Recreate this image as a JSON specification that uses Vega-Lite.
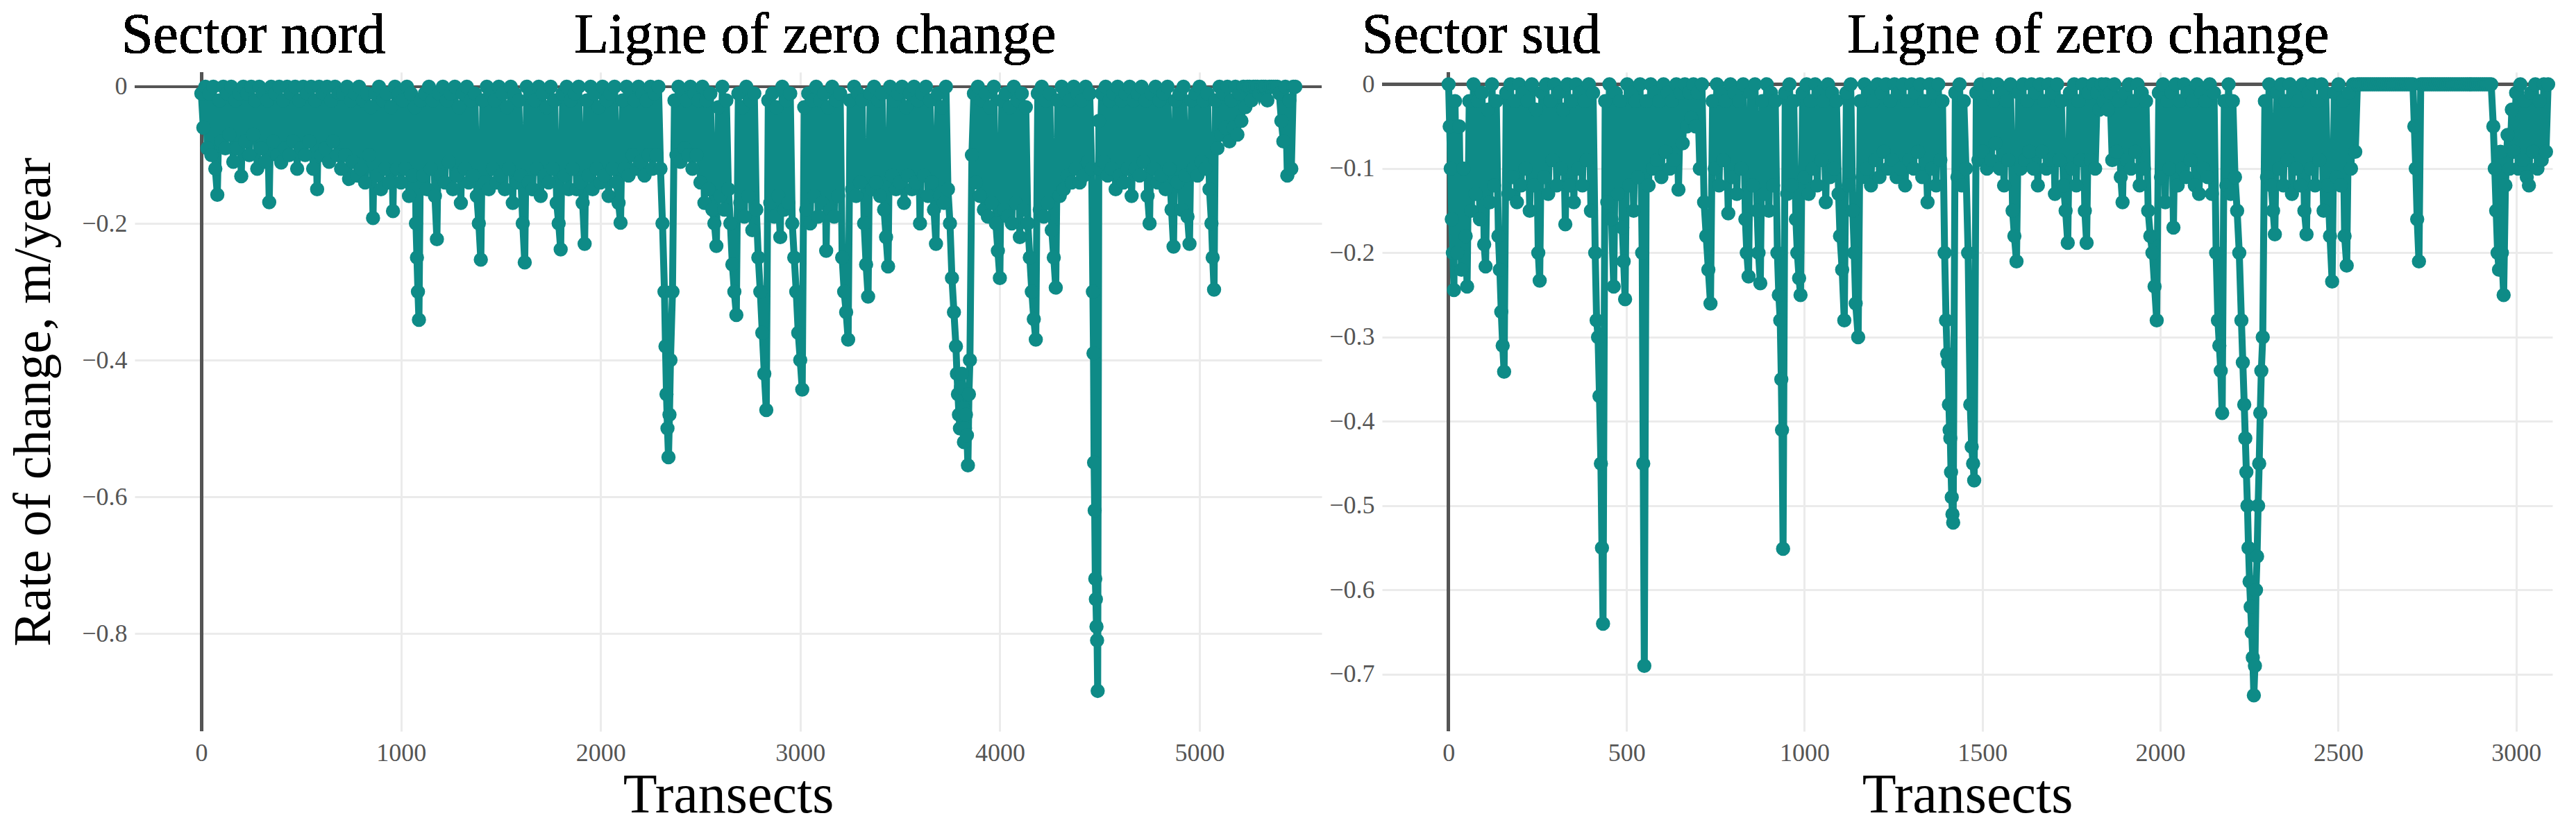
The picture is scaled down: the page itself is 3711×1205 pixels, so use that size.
{
  "$schema": "https://vega.github.io/schema/vega-lite/v6.json",
  "background": "white",
  "padding": {"left": 10, "top": 10, "right": 0, "bottom": 0},
  "spacing": 8,
  "config": {
    "view": {"stroke": null},
    "axis": {"labelFont": "Liberation Serif", "labelFontSize": 36, "labelColor": "#555555", "titleFont": "Liberation Serif", "titleColor": "#000000", "titleFontWeight": "normal", "ticks": false, "domain": false, "gridColor": "#ebebeb", "gridWidth": 3, "labelOverlap": false, "labelFlush": false},
    "axisX": {"labelPadding": 14, "titleFontSize": 80, "titlePadding": 4},
    "axisY": {"labelPadding": 11, "titleFontSize": 76, "titlePadding": 30},
    "text": {"font": "Liberation Serif"}
  },
  "datasets": {
    "nord": [
      {"t":0,"r":-0.01},{"t":10,"r":-0.06},{"t":20,"r":0},{"t":30,"r":-0.09},{"t":40,"r":-0.01},{"t":50,"r":-0.1},{"t":60,"r":0},{"t":70,"r":-0.12},{"t":80,"r":-0.158},{"t":90,"r":-0.02},
      {"t":100,"r":-0.08},{"t":110,"r":0},{"t":120,"r":-0.09},{"t":130,"r":-0.01},{"t":140,"r":-0.07},{"t":150,"r":0},{"t":160,"r":-0.11},{"t":170,"r":-0.02},{"t":180,"r":-0.09},{"t":190,"r":-0.01},{"t":200,"r":-0.131},{"t":210,"r":0},{"t":220,"r":-0.08},{"t":230,"r":-0.01},{"t":240,"r":-0.1},{"t":250,"r":0},{"t":260,"r":-0.07},{"t":270,"r":-0.02},{"t":280,"r":-0.12},{"t":290,"r":0},{"t":300,"r":-0.09},{"t":310,"r":-0.01},{"t":320,"r":-0.11},{"t":330,"r":-0.02},{"t":340,"r":-0.169},{"t":350,"r":0},{"t":360,"r":-0.08},{"t":370,"r":-0.01},{"t":380,"r":-0.1},{"t":390,"r":0},{"t":400,"r":-0.111},{"t":410,"r":-0.02},{"t":420,"r":-0.09},{"t":430,"r":0},{"t":440,"r":-0.1},{"t":450,"r":-0.01},{"t":460,"r":-0.08},{"t":470,"r":0},{"t":480,"r":-0.12},{"t":490,"r":-0.02},{"t":500,"r":-0.09},{"t":510,"r":0},{"t":520,"r":-0.1},{"t":530,"r":-0.01},{"t":540,"r":-0.08},{"t":550,"r":0},{"t":560,"r":-0.12},{"t":570,"r":-0.02},{"t":580,"r":-0.15},{"t":590,"r":0},{"t":600,"r":-0.1},{"t":610,"r":-0.01},{"t":620,"r":-0.09},{"t":630,"r":0},{"t":640,"r":-0.11},{"t":650,"r":-0.02},{"t":660,"r":-0.08},{"t":670,"r":0},{"t":680,"r":-0.1},{"t":690,"r":-0.01},
      {"t":700,"r":-0.12},{"t":710,"r":-0.01},{"t":720,"r":-0.1},{"t":730,"r":0},{"t":740,"r":-0.135},{"t":750,"r":-0.02},{"t":760,"r":-0.11},{"t":770,"r":-0.01},{"t":780,"r":-0.13},{"t":790,"r":0},{"t":800,"r":-0.12},{"t":810,"r":-0.02},{"t":820,"r":-0.14},{"t":830,"r":-0.01},{"t":840,"r":-0.1},{"t":850,"r":-0.03},{"t":860,"r":-0.192},{"t":870,"r":-0.01},{"t":880,"r":-0.13},{"t":890,"r":0},{"t":900,"r":-0.15},{"t":910,"r":-0.02},{"t":920,"r":-0.12},{"t":930,"r":-0.01},{"t":940,"r":-0.14},{"t":950,"r":-0.03},{"t":960,"r":-0.182},{"t":970,"r":0},{"t":980,"r":-0.12},{"t":990,"r":-0.01},
      {"t":1000,"r":-0.14},{"t":1010,"r":-0.02},{"t":1020,"r":-0.12},{"t":1030,"r":0},{"t":1040,"r":-0.16},{"t":1050,"r":-0.01},{"t":1060,"r":-0.13},{"t":1070,"r":-0.03},{"t":1075,"r":-0.2},{"t":1080,"r":-0.25},{"t":1085,"r":-0.3},{"t":1090,"r":-0.341},{"t":1100,"r":-0.02},{"t":1110,"r":-0.13},{"t":1120,"r":-0.01},{"t":1130,"r":-0.15},{"t":1140,"r":0},{"t":1150,"r":-0.12},{"t":1160,"r":-0.02},{"t":1170,"r":-0.16},{"t":1180,"r":-0.223},{"t":1190,"r":-0.01},{"t":1200,"r":-0.13},{"t":1210,"r":0},{"t":1220,"r":-0.14},{"t":1230,"r":-0.02},{"t":1240,"r":-0.11},{"t":1250,"r":-0.01},{"t":1260,"r":-0.15},{"t":1270,"r":0},{"t":1280,"r":-0.13},{"t":1290,"r":-0.03},{"t":1300,"r":-0.17},{"t":1310,"r":-0.01},{"t":1320,"r":-0.12},{"t":1330,"r":0},{"t":1340,"r":-0.14},{"t":1350,"r":-0.02},{"t":1360,"r":-0.13},{"t":1370,"r":-0.01},{"t":1380,"r":-0.16},{"t":1390,"r":-0.2},{"t":1400,"r":-0.253},{"t":1410,"r":-0.02},{"t":1420,"r":-0.14},{"t":1430,"r":0},{"t":1440,"r":-0.15},{"t":1450,"r":-0.01},{"t":1460,"r":-0.12},{"t":1470,"r":-0.02},{"t":1480,"r":-0.14},{"t":1490,"r":0},{"t":1500,"r":-0.13},{"t":1510,"r":-0.01},{"t":1520,"r":-0.15},{"t":1530,"r":-0.03},{"t":1540,"r":-0.12},{"t":1550,"r":0},{"t":1560,"r":-0.17},{"t":1570,"r":-0.01},{"t":1580,"r":-0.14},{"t":1590,"r":-0.02},{"t":1600,"r":-0.13},{"t":1610,"r":-0.2},{"t":1620,"r":-0.257},{"t":1630,"r":0},{"t":1640,"r":-0.14},{"t":1650,"r":-0.01},{"t":1660,"r":-0.15},{"t":1670,"r":-0.02},{"t":1680,"r":-0.12},{"t":1690,"r":0},{"t":1700,"r":-0.16},{"t":1710,"r":-0.01},{"t":1720,"r":-0.13},{"t":1730,"r":-0.03},{"t":1740,"r":-0.14},{"t":1750,"r":0},{"t":1760,"r":-0.12},{"t":1770,"r":-0.02},{"t":1780,"r":-0.17},{"t":1790,"r":-0.2},{"t":1800,"r":-0.238},{"t":1810,"r":-0.01},{"t":1820,"r":-0.13},{"t":1830,"r":0},{"t":1840,"r":-0.15},{"t":1850,"r":-0.02},{"t":1860,"r":-0.12},{"t":1870,"r":-0.01},{"t":1880,"r":-0.15},{"t":1890,"r":0},{"t":1900,"r":-0.14},{"t":1910,"r":-0.17},{"t":1920,"r":-0.23},{"t":1930,"r":-0.02},{"t":1940,"r":-0.13},{"t":1950,"r":0},{"t":1960,"r":-0.15},{"t":1970,"r":-0.01},{"t":1980,"r":-0.12},{"t":1990,"r":-0.03},{"t":2000,"r":-0.14},{"t":2010,"r":0},{"t":2020,"r":-0.13},{"t":2030,"r":-0.02},{"t":2040,"r":-0.16},{"t":2050,"r":-0.01},{"t":2060,"r":-0.12},{"t":2070,"r":0},{"t":2080,"r":-0.14},{"t":2090,"r":-0.17},{"t":2100,"r":-0.199},{"t":2110,"r":-0.02},{"t":2120,"r":-0.12},{"t":2130,"r":0},{"t":2140,"r":-0.13},{"t":2150,"r":-0.01},{"t":2160,"r":-0.1},{"t":2170,"r":-0.02},{"t":2180,"r":-0.12},{"t":2190,"r":0},{"t":2200,"r":-0.11},{"t":2210,"r":-0.01},{"t":2220,"r":-0.13},{"t":2230,"r":-0.02},{"t":2240,"r":-0.1},{"t":2250,"r":0},{"t":2260,"r":-0.12},{"t":2270,"r":-0.01},{"t":2280,"r":-0.1},{"t":2290,"r":0},
      {"t":2300,"r":-0.12},{"t":2310,"r":-0.2},{"t":2320,"r":-0.3},{"t":2325,"r":-0.38},{"t":2330,"r":-0.45},{"t":2335,"r":-0.5},{"t":2340,"r":-0.542},{"t":2345,"r":-0.48},{"t":2350,"r":-0.4},{"t":2360,"r":-0.3},{"t":2370,"r":-0.02},{"t":2380,"r":-0.1},{"t":2390,"r":0},{"t":2400,"r":-0.11},{"t":2410,"r":-0.01},{"t":2420,"r":-0.09},{"t":2430,"r":-0.02},{"t":2440,"r":-0.1},{"t":2450,"r":0},{"t":2460,"r":-0.12},{"t":2470,"r":-0.01},{"t":2480,"r":-0.1},{"t":2490,"r":-0.02},{"t":2500,"r":-0.14},{"t":2510,"r":0},
      {"t":2520,"r":-0.17},{"t":2530,"r":-0.02},{"t":2540,"r":-0.15},{"t":2550,"r":-0.01},{"t":2560,"r":-0.18},{"t":2570,"r":-0.2},{"t":2580,"r":-0.233},{"t":2590,"r":-0.03},{"t":2600,"r":-0.16},{"t":2610,"r":0},{"t":2620,"r":-0.18},{"t":2630,"r":-0.02},{"t":2640,"r":-0.15},{"t":2650,"r":-0.2},{"t":2660,"r":-0.26},{"t":2670,"r":-0.3},{"t":2680,"r":-0.334},{"t":2690,"r":-0.01},{"t":2700,"r":-0.17},{"t":2710,"r":-0.03},{"t":2720,"r":-0.19},{"t":2730,"r":0},{"t":2740,"r":-0.16},{"t":2750,"r":-0.02},{"t":2760,"r":-0.21},{"t":2770,"r":-0.01},{"t":2780,"r":-0.18},{"t":2790,"r":-0.25},{"t":2800,"r":-0.3},{"t":2810,"r":-0.36},{"t":2820,"r":-0.42},{"t":2830,"r":-0.473},{"t":2840,"r":-0.02},{"t":2850,"r":-0.17},{"t":2860,"r":-0.01},{"t":2870,"r":-0.19},{"t":2880,"r":-0.03},{"t":2890,"r":-0.16},{"t":2900,"r":-0.22},{"t":2910,"r":0},{"t":2920,"r":-0.18},{"t":2930,"r":-0.02},{"t":2940,"r":-0.17},{"t":2950,"r":-0.01},{"t":2960,"r":-0.2},{"t":2970,"r":-0.25},{"t":2980,"r":-0.3},{"t":2990,"r":-0.36},{"t":3000,"r":-0.4},{"t":3010,"r":-0.443},{"t":3020,"r":-0.03},{"t":3030,"r":-0.18},{"t":3040,"r":-0.01},{"t":3050,"r":-0.2},{"t":3060,"r":-0.02},{"t":3070,"r":-0.16},{"t":3080,"r":0},{"t":3090,"r":-0.19},{"t":3100,"r":-0.02},{"t":3110,"r":-0.17},{"t":3120,"r":-0.01},{"t":3130,"r":-0.24},{"t":3140,"r":-0.03},{"t":3150,"r":-0.18},{"t":3160,"r":0},{"t":3170,"r":-0.19},{"t":3180,"r":-0.02},{"t":3190,"r":-0.16},{"t":3200,"r":-0.01},{"t":3210,"r":-0.25},{"t":3220,"r":-0.3},{"t":3230,"r":-0.33},{"t":3240,"r":-0.37},{"t":3250,"r":-0.02},{"t":3260,"r":-0.15},{"t":3270,"r":0},{"t":3280,"r":-0.16},{"t":3290,"r":-0.01},{"t":3300,"r":-0.14},{"t":3310,"r":-0.02},
      {"t":3320,"r":-0.2},{"t":3330,"r":-0.26},{"t":3340,"r":-0.307},{"t":3350,"r":-0.01},{"t":3360,"r":-0.15},{"t":3370,"r":0},{"t":3380,"r":-0.14},{"t":3390,"r":-0.02},{"t":3400,"r":-0.16},{"t":3410,"r":-0.01},{"t":3420,"r":-0.18},{"t":3430,"r":-0.22},{"t":3440,"r":-0.263},{"t":3450,"r":0},{"t":3460,"r":-0.13},{"t":3470,"r":-0.02},{"t":3480,"r":-0.15},{"t":3490,"r":-0.01},{"t":3500,"r":-0.14},{"t":3510,"r":0},{"t":3520,"r":-0.17},{"t":3530,"r":-0.03},{"t":3540,"r":-0.13},{"t":3550,"r":-0.01},{"t":3560,"r":-0.15},{"t":3570,"r":0},{"t":3580,"r":-0.14},{"t":3590,"r":-0.02},{"t":3600,"r":-0.2},{"t":3610,"r":-0.01},{"t":3620,"r":-0.13},{"t":3630,"r":0},{"t":3640,"r":-0.16},{"t":3650,"r":-0.02},{"t":3660,"r":-0.14},{"t":3670,"r":-0.18},{"t":3680,"r":-0.23},{"t":3690,"r":-0.01},{"t":3700,"r":-0.16},{"t":3710,"r":-0.03},{"t":3720,"r":-0.17},{"t":3730,"r":0},{"t":3740,"r":-0.15},{"t":3750,"r":-0.2},{"t":3760,"r":-0.28},{"t":3770,"r":-0.33},{"t":3780,"r":-0.38},{"t":3785,"r":-0.42},{"t":3790,"r":-0.45},{"t":3795,"r":-0.48},{"t":3800,"r":-0.5},{"t":3805,"r":-0.44},{"t":3810,"r":-0.42},{"t":3815,"r":-0.47},{"t":3820,"r":-0.52},{"t":3825,"r":-0.5},{"t":3830,"r":-0.48},{"t":3835,"r":-0.51},{"t":3840,"r":-0.554},{"t":3845,"r":-0.45},{"t":3850,"r":-0.4},{"t":3860,"r":-0.1},{"t":3870,"r":-0.01},{"t":3880,"r":-0.14},{"t":3890,"r":0},{"t":3900,"r":-0.16},{"t":3910,"r":-0.02},
      {"t":3920,"r":-0.18},{"t":3930,"r":-0.01},{"t":3940,"r":-0.19},{"t":3950,"r":-0.03},{"t":3960,"r":-0.17},{"t":3970,"r":0},{"t":3980,"r":-0.2},{"t":3990,"r":-0.24},{"t":4000,"r":-0.28},{"t":4010,"r":-0.02},{"t":4020,"r":-0.18},{"t":4030,"r":-0.01},{"t":4040,"r":-0.19},{"t":4050,"r":-0.03},{"t":4060,"r":-0.2},{"t":4070,"r":0},{"t":4080,"r":-0.17},{"t":4090,"r":-0.02},{"t":4100,"r":-0.22},{"t":4110,"r":-0.01},{"t":4120,"r":-0.18},{"t":4130,"r":-0.03},{"t":4140,"r":-0.2},{"t":4150,"r":-0.25},{"t":4160,"r":-0.3},{"t":4170,"r":-0.34},{"t":4180,"r":-0.37},{"t":4190,"r":-0.01},{"t":4200,"r":-0.18},{"t":4210,"r":0},{"t":4220,"r":-0.19},{"t":4230,"r":-0.02},{"t":4240,"r":-0.17},{"t":4250,"r":-0.01},{"t":4260,"r":-0.21},{"t":4270,"r":-0.25},{"t":4280,"r":-0.294},{"t":4290,"r":-0.02},{"t":4300,"r":-0.16},{"t":4310,"r":0},{"t":4320,"r":-0.15},{"t":4330,"r":-0.01},{"t":4340,"r":-0.13},{"t":4350,"r":-0.02},{"t":4360,"r":-0.14},{"t":4370,"r":0},{"t":4380,"r":-0.12},{"t":4390,"r":-0.01},{"t":4400,"r":-0.14},{"t":4410,"r":-0.02},{"t":4420,"r":-0.13},{"t":4430,"r":0},{"t":4440,"r":-0.11},{"t":4450,"r":-0.01},{"t":4460,"r":-0.12},
      {"t":4466,"r":-0.3},{"t":4469,"r":-0.39},{"t":4472,"r":-0.55},{"t":4475,"r":-0.62},{"t":4478,"r":-0.72},{"t":4481,"r":-0.75},{"t":4484,"r":-0.79},{"t":4487,"r":-0.81},{"t":4490,"r":-0.884},{"t":4496,"r":-0.05},
      {"t":4500,"r":-0.12},{"t":4510,"r":-0.01},{"t":4520,"r":-0.11},{"t":4530,"r":0},{"t":4540,"r":-0.13},{"t":4550,"r":-0.02},{"t":4560,"r":-0.12},{"t":4570,"r":-0.01},{"t":4580,"r":-0.15},{"t":4590,"r":0},{"t":4600,"r":-0.13},{"t":4610,"r":-0.02},{"t":4620,"r":-0.14},{"t":4630,"r":-0.01},{"t":4640,"r":-0.12},{"t":4650,"r":0},{"t":4660,"r":-0.16},{"t":4670,"r":-0.02},{"t":4680,"r":-0.12},{"t":4690,"r":-0.01},{"t":4700,"r":-0.13},{"t":4710,"r":0},{"t":4720,"r":-0.11},{"t":4730,"r":-0.02},{"t":4740,"r":-0.16},{"t":4750,"r":-0.2},{"t":4760,"r":-0.01},{"t":4770,"r":-0.12},{"t":4780,"r":0},{"t":4790,"r":-0.14},{"t":4800,"r":-0.02},{"t":4810,"r":-0.13},{"t":4820,"r":-0.01},{"t":4830,"r":-0.15},{"t":4840,"r":0},{"t":4850,"r":-0.12},{"t":4860,"r":-0.18},{"t":4870,"r":-0.234},{"t":4880,"r":-0.02},{"t":4890,"r":-0.14},{"t":4900,"r":-0.01},{"t":4910,"r":-0.18},{"t":4920,"r":0},{"t":4930,"r":-0.13},{"t":4940,"r":-0.19},{"t":4950,"r":-0.23},{"t":4960,"r":-0.02},{"t":4970,"r":-0.12},{"t":4980,"r":-0.01},{"t":4990,"r":-0.13},{"t":5000,"r":0},{"t":5010,"r":-0.11},{"t":5020,"r":-0.02},{"t":5030,"r":-0.12},{"t":5040,"r":-0.01},{"t":5050,"r":-0.15},{"t":5060,"r":-0.2},{"t":5066,"r":-0.25},{"t":5073,"r":-0.297},{"t":5080,"r":-0.02},{"t":5090,"r":-0.09},{"t":5100,"r":0},
      {"t":5110,"r":-0.07},{"t":5120,"r":-0.01},{"t":5130,"r":-0.06},{"t":5140,"r":0},{"t":5150,"r":-0.08},{"t":5160,"r":-0.02},{"t":5170,"r":-0.06},{"t":5180,"r":0},{"t":5190,"r":-0.07},{"t":5200,"r":-0.01},{"t":5210,"r":-0.05},{"t":5220,"r":0},{"t":5230,"r":-0.03},{"t":5240,"r":0},{"t":5250,"r":0},{"t":5260,"r":-0.02},{"t":5270,"r":0},{"t":5280,"r":0},{"t":5290,"r":0},{"t":5300,"r":-0.01},{"t":5310,"r":0},{"t":5320,"r":0},{"t":5330,"r":0},{"t":5340,"r":-0.02},{"t":5350,"r":0},{"t":5360,"r":0},{"t":5370,"r":0},{"t":5380,"r":0},{"t":5390,"r":0},{"t":5400,"r":-0.01},{"t":5410,"r":-0.05},{"t":5420,"r":-0.08},{"t":5430,"r":0},{"t":5440,"r":-0.13},{"t":5450,"r":-0.02},{"t":5460,"r":-0.12},{"t":5470,"r":0},{"t":5480,"r":0}
    ],
    "sud": [
      {"t":0,"r":0},{"t":3,"r":-0.05},{"t":6,"r":-0.1},{"t":9,"r":-0.16},{"t":12,"r":-0.2},{"t":15,"r":-0.244},{"t":18,"r":-0.02},{"t":24,"r":-0.2},{"t":30,"r":-0.05},{"t":36,"r":-0.22},{"t":42,"r":-0.1},{"t":48,"r":-0.18},{"t":52,"r":-0.24},{"t":58,"r":-0.02},{"t":64,"r":-0.15},{"t":70,"r":0},{"t":76,"r":-0.13},{"t":82,"r":-0.02},{"t":88,"r":-0.16},{"t":94,"r":-0.01},{"t":100,"r":-0.19},{"t":104,"r":-0.216},{"t":110,"r":-0.03},{"t":116,"r":-0.14},{"t":122,"r":0},{"t":128,"r":-0.12},{"t":134,"r":-0.02},{"t":140,"r":-0.18},{"t":144,"r":-0.22},{"t":148,"r":-0.27},{"t":152,"r":-0.31},{"t":156,"r":-0.341},{"t":162,"r":-0.01},{"t":168,"r":-0.13},{"t":174,"r":0},{"t":180,"r":-0.11},{"t":186,"r":-0.02},{"t":192,"r":-0.14},{"t":198,"r":0},
      {"t":204,"r":-0.12},{"t":210,"r":-0.01},{"t":216,"r":-0.1},{"t":222,"r":-0.02},{"t":228,"r":-0.15},{"t":234,"r":0},{"t":240,"r":-0.12},{"t":246,"r":-0.03},{"t":252,"r":-0.2},{"t":256,"r":-0.233},{"t":262,"r":-0.01},{"t":268,"r":-0.11},{"t":274,"r":0},{"t":280,"r":-0.13},{"t":286,"r":-0.02},{"t":292,"r":-0.09},{"t":298,"r":0},{"t":304,"r":-0.12},{"t":310,"r":-0.01},{"t":316,"r":-0.1},{"t":322,"r":-0.03},{"t":328,"r":-0.166},{"t":334,"r":0},{"t":340,"r":-0.12},{"t":346,"r":-0.02},{"t":352,"r":-0.14},{"t":358,"r":0},{"t":364,"r":-0.1},{"t":370,"r":-0.01},{"t":376,"r":-0.12},{"t":382,"r":-0.02},{"t":388,"r":-0.09},{"t":394,"r":0},{"t":400,"r":-0.15},{"t":406,"r":-0.01},{"t":412,"r":-0.2},{"t":416,"r":-0.28},{"t":420,"r":-0.3},{"t":424,"r":-0.37},{"t":428,"r":-0.45},{"t":431,"r":-0.55},{"t":434,"r":-0.64},{"t":440,"r":-0.02},{"t":446,"r":-0.14},{"t":452,"r":0},
      {"t":458,"r":-0.16},{"t":464,"r":-0.24},{"t":470,"r":-0.01},{"t":476,"r":-0.13},{"t":482,"r":-0.02},{"t":488,"r":-0.17},{"t":492,"r":-0.21},{"t":496,"r":-0.255},{"t":502,"r":0},{"t":508,"r":-0.12},{"t":514,"r":-0.01},{"t":520,"r":-0.15},{"t":526,"r":-0.02},{"t":532,"r":-0.11},{"t":538,"r":0},{"t":544,"r":-0.2},{"t":547,"r":-0.45},{"t":550,"r":-0.69},{"t":556,"r":-0.02},{"t":562,"r":-0.12},{"t":568,"r":0},{"t":574,"r":-0.1},{"t":580,"r":-0.01},{"t":586,"r":-0.09},{"t":592,"r":-0.02},{"t":598,"r":-0.11},{"t":604,"r":0},{"t":610,"r":-0.08},{"t":616,"r":-0.01},{"t":622,"r":-0.1},{"t":628,"r":-0.02},{"t":634,"r":-0.09},{"t":640,"r":0},{"t":646,"r":-0.125},{"t":652,"r":-0.01},{"t":658,"r":-0.07},{"t":664,"r":0},{"t":670,"r":-0.05},{"t":676,"r":-0.01},{"t":682,"r":-0.04},{"t":688,"r":0},{"t":694,"r":-0.05},
      {"t":700,"r":-0.01},{"t":706,"r":-0.1},{"t":712,"r":0},{"t":718,"r":-0.14},{"t":724,"r":-0.18},{"t":730,"r":-0.22},{"t":736,"r":-0.26},{"t":742,"r":-0.02},{"t":748,"r":-0.1},{"t":754,"r":0},{"t":760,"r":-0.12},{"t":766,"r":-0.01},{"t":772,"r":-0.09},{"t":778,"r":-0.02},{"t":786,"r":-0.153},{"t":792,"r":0},{"t":798,"r":-0.11},{"t":804,"r":-0.01},{"t":810,"r":-0.13},{"t":816,"r":-0.02},{"t":822,"r":-0.1},{"t":828,"r":0},{"t":834,"r":-0.16},{"t":838,"r":-0.2},{"t":843,"r":-0.228},{"t":849,"r":-0.01},{"t":855,"r":-0.12},{"t":861,"r":0},{"t":867,"r":-0.15},{"t":871,"r":-0.2},{"t":876,"r":-0.236},{"t":882,"r":-0.02},{"t":888,"r":-0.13},{"t":894,"r":0},{"t":900,"r":-0.15},{"t":906,"r":-0.01},{"t":912,"r":-0.12},{"t":918,"r":-0.02},{"t":924,"r":-0.2},{"t":928,"r":-0.25},{"t":932,"r":-0.28},{"t":935,"r":-0.35},{"t":937,"r":-0.41},{"t":940,"r":-0.551},{"t":946,"r":-0.01},{"t":952,"r":-0.13},{"t":958,"r":0},{"t":964,"r":-0.12},{"t":970,"r":-0.02},{"t":976,"r":-0.16},{"t":980,"r":-0.2},{"t":985,"r":-0.23},{"t":989,"r":-0.25},{"t":995,"r":-0.01},
      {"t":1000,"r":-0.11},{"t":1006,"r":0},{"t":1012,"r":-0.13},{"t":1018,"r":-0.02},{"t":1024,"r":-0.1},{"t":1030,"r":0},{"t":1036,"r":-0.12},{"t":1042,"r":-0.01},{"t":1048,"r":-0.09},{"t":1054,"r":-0.02},{"t":1060,"r":-0.14},{"t":1066,"r":0},{"t":1072,"r":-0.11},{"t":1078,"r":-0.01},{"t":1084,"r":-0.1},{"t":1090,"r":-0.02},{"t":1096,"r":-0.13},{"t":1100,"r":-0.18},{"t":1106,"r":-0.22},{"t":1112,"r":-0.28},{"t":1118,"r":-0.01},{"t":1124,"r":-0.12},{"t":1130,"r":0},{"t":1136,"r":-0.15},{"t":1140,"r":-0.2},{"t":1144,"r":-0.26},{"t":1151,"r":-0.3},{"t":1157,"r":-0.02},{"t":1163,"r":-0.11},{"t":1169,"r":0},{"t":1175,"r":-0.1},{"t":1181,"r":-0.01},{"t":1187,"r":-0.12},{"t":1193,"r":-0.02},{"t":1199,"r":-0.09},{"t":1205,"r":0},{"t":1211,"r":-0.11},{"t":1217,"r":-0.01},{"t":1223,"r":-0.08},{"t":1229,"r":0},{"t":1235,"r":-0.1},{"t":1241,"r":-0.02},{"t":1247,"r":-0.09},{"t":1253,"r":0},{"t":1259,"r":-0.11},{"t":1265,"r":-0.01},{"t":1271,"r":-0.1},{"t":1277,"r":0},{"t":1283,"r":-0.12},{"t":1289,"r":-0.02},{"t":1295,"r":-0.09},
      {"t":1301,"r":0},{"t":1307,"r":-0.1},{"t":1313,"r":-0.01},{"t":1319,"r":-0.08},{"t":1325,"r":0},{"t":1331,"r":-0.11},{"t":1337,"r":-0.02},{"t":1346,"r":-0.14},{"t":1352,"r":0},{"t":1358,"r":-0.1},{"t":1364,"r":-0.01},{"t":1370,"r":-0.12},{"t":1376,"r":0},{"t":1382,"r":-0.09},{"t":1388,"r":-0.02},{"t":1394,"r":-0.2},{"t":1398,"r":-0.28},{"t":1401,"r":-0.32},{"t":1404,"r":-0.33},{"t":1406,"r":-0.38},{"t":1408,"r":-0.41},{"t":1410,"r":-0.42},{"t":1412,"r":-0.46},{"t":1414,"r":-0.49},{"t":1416,"r":-0.51},{"t":1418,"r":-0.52},{"t":1424,"r":-0.01},{"t":1430,"r":-0.11},{"t":1436,"r":0},{"t":1442,"r":-0.12},{"t":1448,"r":-0.02},{"t":1454,"r":-0.1},{"t":1460,"r":-0.2},{"t":1466,"r":-0.38},{"t":1470,"r":-0.43},{"t":1474,"r":-0.45},{"t":1477,"r":-0.47},{"t":1483,"r":-0.01},{"t":1489,"r":-0.09},{"t":1495,"r":0},
      {"t":1501,"r":-0.08},{"t":1507,"r":-0.01},{"t":1513,"r":-0.1},{"t":1519,"r":0},{"t":1525,"r":-0.09},{"t":1531,"r":-0.02},{"t":1537,"r":-0.07},{"t":1543,"r":0},{"t":1549,"r":-0.1},{"t":1555,"r":-0.01},{"t":1561,"r":-0.12},{"t":1567,"r":-0.02},{"t":1573,"r":-0.09},{"t":1579,"r":0},{"t":1585,"r":-0.15},{"t":1590,"r":-0.18},{"t":1596,"r":-0.21},{"t":1602,"r":-0.01},{"t":1608,"r":-0.1},{"t":1614,"r":0},{"t":1620,"r":-0.09},{"t":1626,"r":-0.02},{"t":1632,"r":-0.08},{"t":1638,"r":0},{"t":1644,"r":-0.1},{"t":1650,"r":-0.01},{"t":1656,"r":-0.12},{"t":1662,"r":0},{"t":1668,"r":-0.08},{"t":1674,"r":-0.02},{"t":1680,"r":-0.1},{"t":1686,"r":0},{"t":1692,"r":-0.09},{"t":1698,"r":-0.01},{"t":1704,"r":-0.13},{"t":1710,"r":0},{"t":1716,"r":-0.09},{"t":1722,"r":-0.02},{"t":1728,"r":-0.12},{"t":1734,"r":-0.15},{"t":1740,"r":-0.188},{"t":1746,"r":-0.01},{"t":1752,"r":-0.1},{"t":1758,"r":0},{"t":1764,"r":-0.12},{"t":1770,"r":-0.02},{"t":1776,"r":-0.09},{"t":1782,"r":0},{"t":1788,"r":-0.15},{"t":1793,"r":-0.188},{"t":1799,"r":-0.01},{"t":1805,"r":-0.09},{"t":1811,"r":0},{"t":1817,"r":-0.1},{"t":1823,"r":-0.01},{"t":1829,"r":-0.03},{"t":1835,"r":0},{"t":1841,"r":-0.02},{"t":1847,"r":0},{"t":1853,"r":-0.03},{"t":1859,"r":-0.01},{"t":1865,"r":-0.09},{"t":1871,"r":0},{"t":1877,"r":-0.08},{"t":1883,"r":-0.02},{"t":1889,"r":-0.11},{"t":1894,"r":-0.14},{"t":1900,"r":-0.01},{"t":1906,"r":-0.09},{"t":1912,"r":0},{"t":1918,"r":-0.1},{"t":1924,"r":-0.02},{"t":1930,"r":-0.08},{"t":1936,"r":0},{"t":1942,"r":-0.12},{"t":1948,"r":-0.01},{"t":1954,"r":-0.1},{"t":1960,"r":-0.02},{"t":1966,"r":-0.15},{"t":1972,"r":-0.18},{"t":1978,"r":-0.2},{"t":1984,"r":-0.24},{"t":1990,"r":-0.28},{"t":1996,"r":-0.01},
      {"t":2002,"r":-0.11},{"t":2008,"r":0},{"t":2014,"r":-0.14},{"t":2020,"r":-0.02},{"t":2026,"r":-0.1},{"t":2032,"r":-0.01},{"t":2037,"r":-0.17},{"t":2043,"r":0},{"t":2049,"r":-0.12},{"t":2055,"r":-0.02},{"t":2061,"r":-0.1},{"t":2067,"r":0},{"t":2073,"r":-0.11},{"t":2079,"r":-0.01},{"t":2085,"r":-0.09},{"t":2091,"r":-0.02},{"t":2097,"r":-0.12},{"t":2103,"r":0},{"t":2109,"r":-0.13},{"t":2115,"r":-0.01},{"t":2121,"r":-0.1},{"t":2127,"r":-0.02},{"t":2133,"r":-0.11},{"t":2139,"r":0},{"t":2145,"r":-0.13},{"t":2151,"r":-0.01},{"t":2157,"r":-0.2},{"t":2162,"r":-0.28},{"t":2166,"r":-0.31},{"t":2170,"r":-0.34},{"t":2174,"r":-0.39},{"t":2180,"r":-0.02},{"t":2186,"r":-0.12},{"t":2192,"r":0},{"t":2198,"r":-0.13},{"t":2204,"r":-0.02},{"t":2210,"r":-0.11},{"t":2216,"r":-0.15},{"t":2222,"r":-0.2},{"t":2228,"r":-0.28},{"t":2232,"r":-0.33},{"t":2236,"r":-0.38},{"t":2239,"r":-0.42},{"t":2242,"r":-0.46},{"t":2245,"r":-0.5},{"t":2248,"r":-0.55},{"t":2251,"r":-0.59},{"t":2254,"r":-0.62},{"t":2257,"r":-0.65},{"t":2260,"r":-0.68},{"t":2263,"r":-0.725},{"t":2266,"r":-0.69},{"t":2269,"r":-0.6},{"t":2272,"r":-0.56},{"t":2275,"r":-0.5},{"t":2278,"r":-0.45},{"t":2281,"r":-0.39},{"t":2284,"r":-0.34},{"t":2288,"r":-0.3},{"t":2294,"r":-0.02},{"t":2300,"r":-0.11},{"t":2306,"r":0},{"t":2312,"r":-0.12},{"t":2317,"r":-0.15},{"t":2322,"r":-0.178},{"t":2328,"r":-0.01},{"t":2334,"r":-0.1},{"t":2340,"r":0},{"t":2346,"r":-0.12},{"t":2352,"r":-0.02},{"t":2358,"r":-0.09},{"t":2364,"r":0},{"t":2370,"r":-0.13},{"t":2376,"r":-0.01},{"t":2382,"r":-0.1},{"t":2388,"r":-0.02},{"t":2394,"r":-0.12},{"t":2400,"r":0},{"t":2405,"r":-0.15},{"t":2411,"r":-0.178},{"t":2417,"r":-0.01},{"t":2423,"r":-0.1},{"t":2429,"r":0},{"t":2435,"r":-0.12},{"t":2441,"r":-0.02},{"t":2447,"r":-0.09},{"t":2453,"r":0},{"t":2459,"r":-0.15},{"t":2465,"r":-0.01},{"t":2471,"r":-0.12},{"t":2477,"r":-0.18},{"t":2483,"r":-0.234},{"t":2489,"r":-0.01},{"t":2495,"r":-0.11},{"t":2501,"r":0},{"t":2507,"r":-0.12},{"t":2513,"r":-0.02},{"t":2518,"r":-0.18},{"t":2524,"r":-0.215},{"t":2530,"r":-0.01},{"t":2536,"r":-0.1},{"t":2542,"r":0},{"t":2548,"r":-0.08},{"t":2554,"r":0},
      {"t":2560,"r":0},{"t":2566,"r":0},{"t":2572,"r":0},{"t":2578,"r":0},{"t":2584,"r":0},{"t":2590,"r":0},{"t":2596,"r":0},{"t":2602,"r":0},{"t":2608,"r":0},{"t":2614,"r":0},{"t":2620,"r":0},{"t":2626,"r":0},{"t":2632,"r":0},{"t":2638,"r":0},{"t":2644,"r":0},{"t":2650,"r":0},{"t":2656,"r":0},{"t":2662,"r":0},{"t":2668,"r":0},{"t":2674,"r":0},{"t":2680,"r":0},{"t":2686,"r":0},{"t":2692,"r":0},{"t":2698,"r":0},{"t":2704,"r":0},{"t":2710,"r":0},{"t":2714,"r":-0.05},{"t":2718,"r":-0.1},{"t":2722,"r":-0.16},{"t":2727,"r":-0.21},{"t":2732,"r":0},{"t":2738,"r":0},{"t":2744,"r":0},{"t":2750,"r":0},{"t":2756,"r":0},{"t":2762,"r":0},{"t":2768,"r":0},{"t":2774,"r":0},{"t":2780,"r":0},{"t":2786,"r":0},{"t":2792,"r":0},{"t":2798,"r":0},{"t":2804,"r":0},{"t":2810,"r":0},{"t":2816,"r":0},{"t":2822,"r":0},{"t":2828,"r":0},{"t":2834,"r":0},{"t":2840,"r":0},{"t":2846,"r":0},{"t":2852,"r":0},{"t":2858,"r":0},{"t":2864,"r":0},{"t":2870,"r":0},{"t":2876,"r":0},{"t":2882,"r":0},{"t":2888,"r":0},{"t":2894,"r":0},{"t":2900,"r":0},{"t":2906,"r":0},{"t":2912,"r":0},{"t":2918,"r":0},{"t":2924,"r":0},{"t":2930,"r":0},
      {"t":2936,"r":-0.05},{"t":2940,"r":-0.1},{"t":2944,"r":-0.15},{"t":2948,"r":-0.2},{"t":2952,"r":-0.22},{"t":2956,"r":-0.08},{"t":2960,"r":-0.2},{"t":2965,"r":-0.25},{"t":2970,"r":-0.12},{"t":2976,"r":-0.06},{"t":2982,"r":-0.1},{"t":2988,"r":-0.03},{"t":2994,"r":-0.08},{"t":3000,"r":-0.01},{"t":3006,"r":-0.1},{"t":3012,"r":0},{"t":3018,"r":-0.09},{"t":3024,"r":-0.02},{"t":3030,"r":-0.11},{"t":3036,"r":-0.12},{"t":3042,"r":-0.01},{"t":3048,"r":-0.08},{"t":3054,"r":0},{"t":3060,"r":-0.1},{"t":3066,"r":-0.02},{"t":3072,"r":-0.09},{"t":3078,"r":0},{"t":3084,"r":-0.08},{"t":3090,"r":0}
    ]
  },
  "hconcat": [
    {
      "width": 1710,
      "height": 950,
      "data": {"name": "nord"},
      "layer": [
        {
          "mark": {"type": "rule", "color": "#555555", "strokeWidth": 4},
          "encoding": {"y": {"datum": 0, "type": "quantitative", "scale": {"domain": [-0.943, 0.0213], "nice": false, "zero": false}}}
        },
        {
          "mark": {"type": "rule", "color": "#555555", "strokeWidth": 4},
          "encoding": {"x": {"datum": 0, "type": "quantitative", "scale": {"domain": [-334, 5612], "nice": false, "zero": false}}}
        },
        {
          "mark": {"type": "line", "color": "#0e8b87", "strokeWidth": 10, "point": {"filled": true, "size": 420, "color": "#0e8b87", "opacity": 1}},
          "encoding": {
            "x": {"field": "t", "type": "quantitative", "scale": {"domain": [-334, 5612], "nice": false, "zero": false}, "axis": {"title": "Transects", "values": [0, 1000, 2000, 3000, 4000, 5000], "format": "d", "grid": true}},
            "y": {"field": "r", "type": "quantitative", "scale": {"domain": [-0.943, 0.0213], "nice": false, "zero": false}, "axis": {"title": "Rate of change, m/year", "values": [0, -0.2, -0.4, -0.6, -0.8], "format": "~g", "grid": true}}
          }
        },
        {
          "mark": {"type": "text", "text": "Sector nord", "align": "left", "baseline": "alphabetic", "fontSize": 82, "color": "#000000"},
          "encoding": {
            "x": {"datum": -400, "type": "quantitative", "scale": {"domain": [-334, 5612], "nice": false, "zero": false}},
            "y": {"datum": 0.0497, "type": "quantitative", "scale": {"domain": [-0.943, 0.0213], "nice": false, "zero": false}}
          }
        },
        {
          "mark": {"type": "text", "text": "Ligne  of zero change", "align": "center", "baseline": "alphabetic", "fontSize": 82, "color": "#000000"},
          "encoding": {
            "x": {"datum": 3074, "type": "quantitative", "scale": {"domain": [-334, 5612], "nice": false, "zero": false}},
            "y": {"datum": 0.0497, "type": "quantitative", "scale": {"domain": [-0.943, 0.0213], "nice": false, "zero": false}}
          }
        }
      ]
    },
    {
      "width": 1686,
      "height": 950,
      "data": {"name": "sud"},
      "layer": [
        {
          "mark": {"type": "rule", "color": "#555555", "strokeWidth": 4},
          "encoding": {"y": {"datum": 0, "type": "quantitative", "scale": {"domain": [-0.7675, 0.0144], "nice": false, "zero": false}}}
        },
        {
          "mark": {"type": "rule", "color": "#555555", "strokeWidth": 4},
          "encoding": {"x": {"datum": 0, "type": "quantitative", "scale": {"domain": [-187, 3102], "nice": false, "zero": false}}}
        },
        {
          "mark": {"type": "line", "color": "#0e8b87", "strokeWidth": 10, "point": {"filled": true, "size": 420, "color": "#0e8b87", "opacity": 1}},
          "encoding": {
            "x": {"field": "t", "type": "quantitative", "scale": {"domain": [-187, 3102], "nice": false, "zero": false}, "axis": {"title": "Transects", "values": [0, 500, 1000, 1500, 2000, 2500, 3000], "format": "d", "grid": true}},
            "y": {"field": "r", "type": "quantitative", "scale": {"domain": [-0.7675, 0.0144], "nice": false, "zero": false}, "axis": {"title": null, "values": [0, -0.1, -0.2, -0.3, -0.4, -0.5, -0.6, -0.7], "format": "~g", "grid": true}}
          }
        },
        {
          "mark": {"type": "text", "text": "Sector sud", "align": "left", "baseline": "alphabetic", "fontSize": 82, "color": "#000000"},
          "encoding": {
            "x": {"datum": -244, "type": "quantitative", "scale": {"domain": [-187, 3102], "nice": false, "zero": false}},
            "y": {"datum": 0.0374, "type": "quantitative", "scale": {"domain": [-0.7675, 0.0144], "nice": false, "zero": false}}
          }
        },
        {
          "mark": {"type": "text", "text": "Ligne  of zero change", "align": "center", "baseline": "alphabetic", "fontSize": 82, "color": "#000000"},
          "encoding": {
            "x": {"datum": 1797, "type": "quantitative", "scale": {"domain": [-187, 3102], "nice": false, "zero": false}},
            "y": {"datum": 0.0374, "type": "quantitative", "scale": {"domain": [-0.7675, 0.0144], "nice": false, "zero": false}}
          }
        }
      ]
    }
  ]
}
